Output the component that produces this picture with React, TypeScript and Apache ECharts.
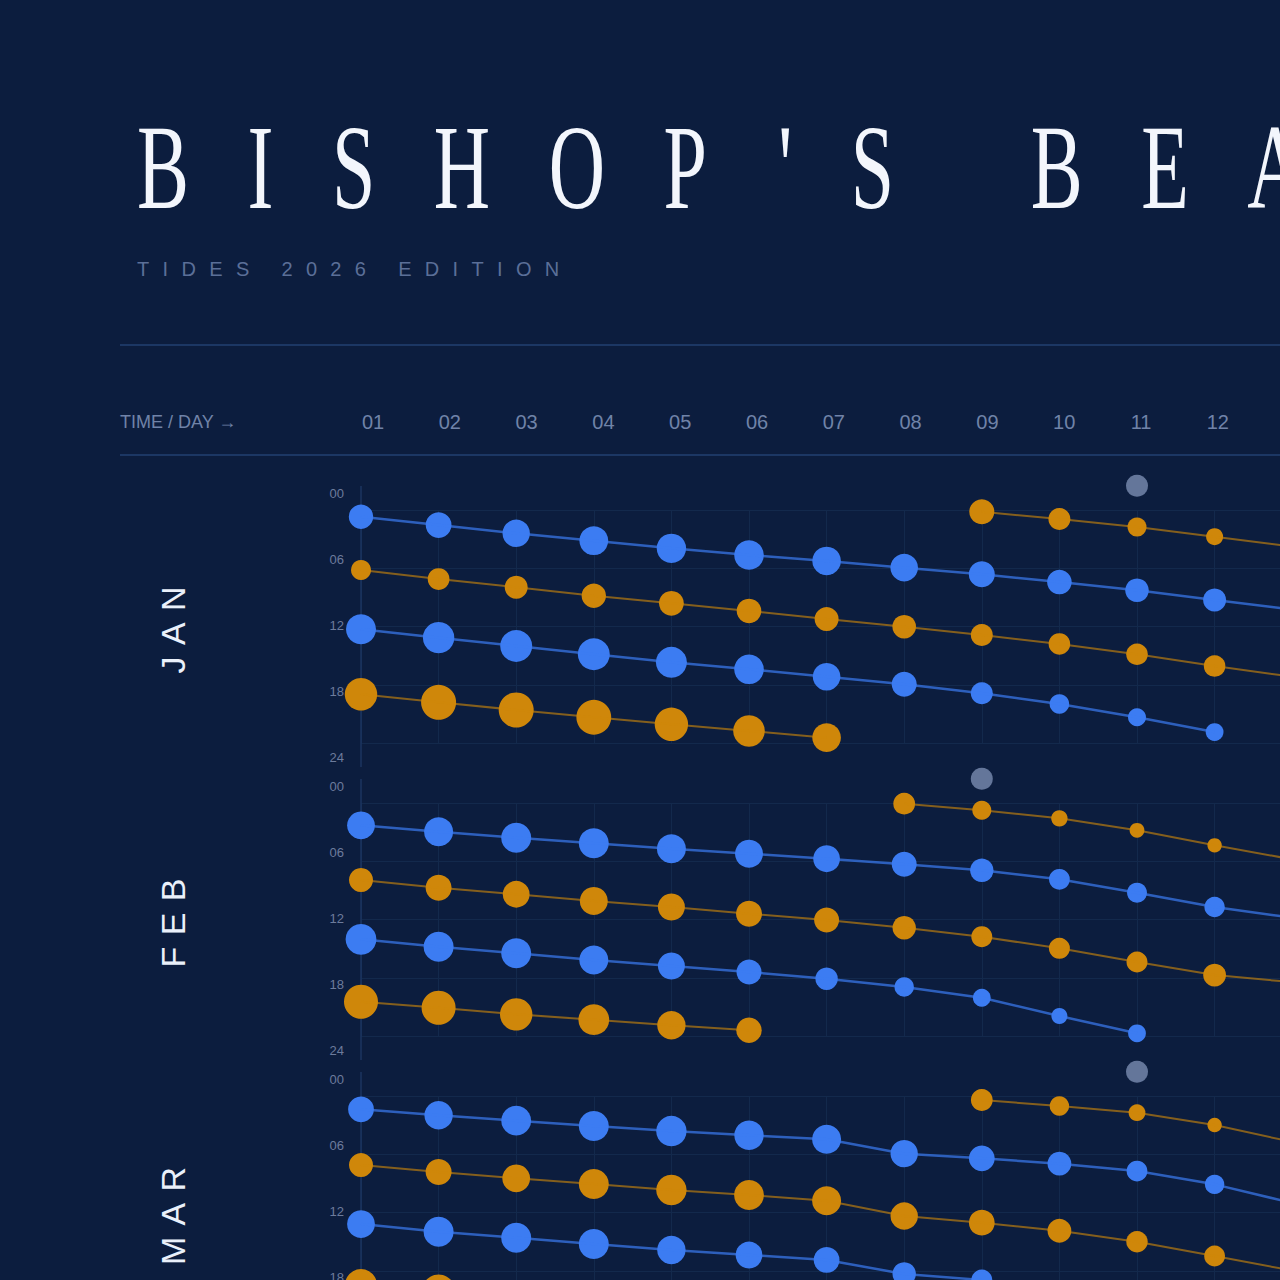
import React, { useEffect, useRef } from "react";
import * as echarts from "echarts";

// ---------- text ----------
const TITLE = "BISHOP'S BEACH";
const SUBTITLE = "TIDES 2026 EDITION";
const AXIS_CAPTION = "TIME / DAY \u2192";
const MONTHS = ["JAN", "FEB", "MAR"];
const DAY_LABELS = ["01", "02", "03", "04", "05", "06", "07", "08", "09", "10", "11", "12"];
const HOUR_TICKS = [0, 6, 12, 18, 24];

// ---------- data (hour of day, tide magnitude) per day 1..13 ----------
const JAN_HIGH_A_T = [0.69, 1.55, 2.4, 3.16, 3.95, 4.64, 5.25, 5.94, 6.62, 7.42, 8.27, 9.27, 10.25];
const JAN_HIGH_A_M = [12.2, 12.9, 13.7, 14.4, 14.7, 14.8, 14.3, 13.8, 13.0, 12.3, 11.8, 11.5, 11.0];
const JAN_LOW_A_T = [6.18, 7.11, 7.96, 8.83, 9.61, 10.4, 11.23, 12.02, 12.88, 13.8, 14.86, 16.07, 17.17];
const JAN_LOW_A_M = [10.0, 10.9, 11.5, 12.2, 12.4, 12.3, 12.0, 11.8, 11.0, 10.8, 10.8, 10.8, 10.8];
const JAN_HIGH_B_T = [12.29, 13.15, 14.01, 14.86, 15.69, 16.41, 17.17, 17.95, 18.88, 19.98, 21.35, 22.87, null];
const JAN_HIGH_B_M = [15.0, 15.7, 16.0, 16.0, 15.5, 14.8, 13.8, 12.5, 11.0, 9.8, 9.0, 8.9, null];
const JAN_LOW_B_T = [18.98, 19.81, 20.6, 21.35, 22.07, 22.76, 23.45, null, null, null, null, null, null];
const JAN_LOW_B_M = [16.2, 17.5, 17.5, 17.4, 16.7, 15.8, 14.3, null, null, null, null, null, null];
const JAN_LOW_C_T = [null, null, null, null, null, null, null, null, 0.18, 0.93, 1.75, 2.75, 3.77];
const JAN_LOW_C_M = [null, null, null, null, null, null, null, null, 12.5, 11.0, 9.5, 8.5, 8.0];
const JAN_MOON_DAYS = [11];

const FEB_HIGH_A_T = [2.3, 2.96, 3.57, 4.15, 4.71, 5.22, 5.74, 6.31, 6.93, 7.86, 9.24, 10.71, 11.82];
const FEB_HIGH_A_M = [13.9, 14.5, 15.0, 15.0, 14.5, 14.0, 13.4, 12.5, 11.7, 10.4, 10.0, 10.2, 10.0];
const FEB_LOW_A_T = [7.93, 8.72, 9.4, 10.09, 10.71, 11.4, 12.05, 12.85, 13.77, 14.97, 16.38, 17.72, 18.46];
const FEB_LOW_A_M = [12.0, 13.0, 13.4, 14.0, 13.5, 13.0, 12.5, 11.7, 10.5, 10.5, 10.5, 11.4, 11.5];
const FEB_HIGH_B_T = [14.04, 14.8, 15.48, 16.17, 16.79, 17.41, 18.1, 18.95, 20.06, 21.94, 23.72, null, null];
const FEB_HIGH_B_M = [15.4, 15.0, 15.0, 14.5, 13.5, 12.5, 11.2, 9.7, 8.9, 8.0, 8.9, null, null];
const FEB_LOW_B_T = [20.47, 21.09, 21.77, 22.32, 22.9, 23.41, null, null, null, null, null, null, null];
const FEB_LOW_B_M = [17.0, 17.0, 16.2, 15.4, 14.2, 12.7, null, null, null, null, null, null, null];
const FEB_LOW_C_T = [null, null, null, null, null, null, null, 0.07, 0.75, 1.58, 2.81, 4.36, 5.8];
const FEB_LOW_C_M = [null, null, null, null, null, null, null, 10.9, 9.5, 8.2, 7.4, 7.2, 7.0];
const FEB_MOON_DAYS = [9];

const MAR_HIGH_A_T = [1.37, 1.99, 2.54, 3.09, 3.61, 4.05, 4.46, 5.94, 6.42, 6.97, 7.73, 9.1, 11.02];
const MAR_HIGH_A_M = [12.9, 14.2, 14.9, 15.0, 15.2, 14.7, 14.5, 13.7, 12.9, 11.9, 10.4, 9.7, 9.5];
const MAR_LOW_A_T = [7.11, 7.83, 8.48, 9.06, 9.68, 10.2, 10.79, 12.36, 13.05, 13.88, 15.01, 16.48, 17.99];
const MAR_LOW_A_M = [12.0, 13.0, 13.9, 15.0, 15.2, 14.9, 14.5, 13.7, 12.9, 11.9, 10.7, 10.4, 10.0];
const MAR_HIGH_B_T = [13.19, 13.98, 14.6, 15.25, 15.86, 16.38, 16.89, 18.33, 18.95, null, null, null, null];
const MAR_HIGH_B_M = [13.9, 15.0, 15.0, 15.0, 14.2, 13.4, 12.9, 11.7, 10.5, null, null, null, null];
const MAR_LOW_B_T = [19.47, 20.09, 20.7, null, null, null, null, null, null, null, null, null, null];
const MAR_LOW_B_M = [16.0, 16.5, 16.5, null, null, null, null, null, null, null, null, null, null];
const MAR_LOW_C_T = [null, null, null, null, null, null, null, null, 0.41, 1.03, 1.72, 2.99, 4.74];
const MAR_LOW_C_M = [null, null, null, null, null, null, null, null, 10.9, 9.7, 8.4, 7.2, 6.5];
const MAR_MOON_DAYS = [11];

// ---------- styles / layout ----------
const BG = "#0c1d3e";
const GRID_LINE = "#13294c";
const RULE = "#1c3764";
const AXIS_LINE = "#1b3560";
const BLUE = "#3c7cf2";
const ORANGE = "#cf870a";
const MOON = "#7a8db2";
const MUTED = "#7083a8";
const TICK_COLOR = "#6c7b9c";
const SANS = '"Liberation Sans", Arial, sans-serif';
const SERIF = '"Liberation Serif", "Times New Roman", serif';

const VIEW_W = 1280;
const VIEW_H = 1280;
const CANVAS_W = 1300;
const CANVAS_H = 1400;
const PLOT_LEFT = 361;
const DAY_STEP = 77.6;
const LAST_DAY = 13;
const HEADER_LEFT = 373;
const HEADER_STEP = 76.8;
const PANEL_TOP0 = 510;
const PANEL_STEP = 293;
const PANEL_H = 233;
const SIZE_PER_UNIT = 2;
const MOON_LANE = -2.5;

type Row = [Array<number | null>, Array<number | null>, "high" | "low"];

const MONTH_ROWS: { rows: Row[]; moon: number[] }[] = [
  {
    rows: [
      [JAN_HIGH_A_T, JAN_HIGH_A_M, "high"],
      [JAN_LOW_A_T, JAN_LOW_A_M, "low"],
      [JAN_HIGH_B_T, JAN_HIGH_B_M, "high"],
      [JAN_LOW_B_T, JAN_LOW_B_M, "low"],
      [JAN_LOW_C_T, JAN_LOW_C_M, "low"],
    ],
    moon: JAN_MOON_DAYS,
  },
  {
    rows: [
      [FEB_HIGH_A_T, FEB_HIGH_A_M, "high"],
      [FEB_LOW_A_T, FEB_LOW_A_M, "low"],
      [FEB_HIGH_B_T, FEB_HIGH_B_M, "high"],
      [FEB_LOW_B_T, FEB_LOW_B_M, "low"],
      [FEB_LOW_C_T, FEB_LOW_C_M, "low"],
    ],
    moon: FEB_MOON_DAYS,
  },
  {
    rows: [
      [MAR_HIGH_A_T, MAR_HIGH_A_M, "high"],
      [MAR_LOW_A_T, MAR_LOW_A_M, "low"],
      [MAR_HIGH_B_T, MAR_HIGH_B_M, "high"],
      [MAR_LOW_B_T, MAR_LOW_B_M, "low"],
      [MAR_LOW_C_T, MAR_LOW_C_M, "low"],
    ],
    moon: MAR_MOON_DAYS,
  },
];

function spaced(text: string, gap: string) {
  return Array.from(text)
    .map((c) => (c === " " ? "\u00A0" : c === "'" ? "\u2006'" : c))
    .join(gap);
}

function toPoints(times: Array<number | null>, mags: Array<number | null>) {
  const out: number[][] = [];
  times.forEach((t, i) => {
    if (t !== null && mags[i] !== null) out.push([i + 1, t, mags[i] as number]);
  });
  return out;
}

function buildOption() {
  const grid: any[] = [];
  const xAxis: any[] = [];
  const yAxis: any[] = [];
  const series: any[] = [];
  const graphic: any[] = [];

  MONTH_ROWS.forEach((month, m) => {
    const top = PANEL_TOP0 + PANEL_STEP * m;
    const dataIdx = grid.length;
    grid.push({ left: PLOT_LEFT, top, width: DAY_STEP * (LAST_DAY - 1), height: PANEL_H });
    xAxis.push({
      gridIndex: dataIdx,
      type: "value",
      min: 1,
      max: LAST_DAY,
      interval: 1,
      axisLine: { show: false },
      axisTick: { show: false },
      axisLabel: { show: false },
      splitLine: { show: true, lineStyle: { color: GRID_LINE, width: 1 } },
    });
    yAxis.push({
      gridIndex: dataIdx,
      type: "value",
      inverse: true,
      min: 0,
      max: 24,
      interval: 6,
      axisLine: { show: false },
      axisTick: { show: false },
      axisLabel: { show: false },
      splitLine: { show: true, lineStyle: { color: GRID_LINE, width: 1 } },
    });

    const labelIdx = grid.length;
    grid.push({ left: PLOT_LEFT, top: top - 16.5, width: 10, height: 264 });
    xAxis.push({ gridIndex: labelIdx, type: "value", show: false });
    yAxis.push({
      gridIndex: labelIdx,
      type: "value",
      inverse: true,
      min: HOUR_TICKS[0],
      max: HOUR_TICKS[HOUR_TICKS.length - 1],
      interval: 6,
      axisLine: { show: false },
      axisTick: { show: false },
      splitLine: { show: false },
      axisLabel: {
        show: true,
        margin: 17,
        color: TICK_COLOR,
        fontSize: 13,
        fontFamily: SANS,
        formatter: (v: number) => String(v).padStart(2, "0"),
      },
    });

    month.rows.forEach(([times, mags, kind]) => {
      const pts = toPoints(times, mags);
      const color = kind === "high" ? BLUE : ORANGE;
      series.push({
        type: "scatter",
        xAxisIndex: dataIdx,
        yAxisIndex: dataIdx,
        data: pts,
        symbol: "circle",
        symbolSize: (v: number[]) => v[2] * SIZE_PER_UNIT,
        itemStyle: { color, opacity: 1 },
        clip: false,
        silent: true,
        z: 2,
      });
      series.push({
        type: "line",
        xAxisIndex: dataIdx,
        yAxisIndex: dataIdx,
        data: pts.map((p) => [p[0], p[1]]),
        symbol: "none",
        showSymbol: false,
        clip: false,
        lineStyle: {
          color,
          width: kind === "high" ? 2.5 : 2,
          opacity: kind === "high" ? 0.7 : 0.62,
        },
        silent: true,
        z: 3,
      });
    });

    series.push({
      type: "scatter",
      xAxisIndex: dataIdx,
      yAxisIndex: dataIdx,
      data: month.moon.map((d) => [d, MOON_LANE]),
      symbolSize: 22,
      clip: false,
      itemStyle: { color: MOON },
      silent: true,
      z: 2,
    });

    graphic.push({
      type: "line",
      shape: { x1: PLOT_LEFT, y1: top - 24, x2: PLOT_LEFT, y2: top + PANEL_H + 24 },
      style: { stroke: AXIS_LINE, lineWidth: 1.5 },
      silent: true,
      z: 1,
    });
    graphic.push({
      type: "text",
      x: 173,
      y: top + 120,
      rotation: Math.PI / 2,
      style: {
        text: spaced(MONTHS[m], "\u2004"),
        fill: "#eaf0fa",
        fontSize: 34,
        fontFamily: SANS,
        align: "center",
        textAlign: "center",
        verticalAlign: "middle",
        textVerticalAlign: "middle",
      },
      silent: true,
    });
  });

  // header day axis
  const headIdx = grid.length;
  grid.push({
    left: HEADER_LEFT,
    top: 421,
    width: HEADER_STEP * (DAY_LABELS.length - 1),
    height: 1,
  });
  xAxis.push({
    gridIndex: headIdx,
    type: "category",
    data: DAY_LABELS,
    boundaryGap: false,
    axisLine: { show: false },
    axisTick: { show: false },
    splitLine: { show: false },
    axisLabel: {
      interval: 0,
      margin: 0,
      verticalAlign: "middle",
      color: MUTED,
      fontSize: 20,
      fontFamily: SANS,
    },
  });
  yAxis.push({ gridIndex: headIdx, type: "value", show: false });

  graphic.push(
    {
      type: "text",
      x: 137,
      y: 167.5,
      scaleX: 0.65,
      style: {
        text: spaced(TITLE, "\u2002\u00A0"),
        fill: "#f3f6fc",
        fontSize: 120,
        fontFamily: SERIF,
        align: "left",
        textAlign: "left",
        verticalAlign: "middle",
        textVerticalAlign: "middle",
      },
      silent: true,
    },
    {
      type: "text",
      x: 137,
      y: 268.5,
      style: {
        text: spaced(SUBTITLE, "\u2002\u2006"),
        fill: "#5b6f98",
        fontSize: 20,
        fontFamily: SANS,
        align: "left",
        textAlign: "left",
        verticalAlign: "middle",
        textVerticalAlign: "middle",
      },
      silent: true,
    },
    {
      type: "line",
      shape: { x1: 120, y1: 345, x2: CANVAS_W, y2: 345 },
      style: { stroke: RULE, lineWidth: 2 },
      silent: true,
    },
    {
      type: "line",
      shape: { x1: 120, y1: 455, x2: CANVAS_W, y2: 455 },
      style: { stroke: RULE, lineWidth: 2 },
      silent: true,
    },
    {
      type: "text",
      x: 120,
      y: 422,
      style: {
        text: AXIS_CAPTION,
        fill: MUTED,
        fontSize: 18,
        fontFamily: SANS,
        align: "left",
        textAlign: "left",
        verticalAlign: "middle",
        textVerticalAlign: "middle",
      },
      silent: true,
    }
  );

  return {
    animation: false,
    backgroundColor: BG,
    tooltip: { show: false },
    grid,
    xAxis,
    yAxis,
    series,
    graphic: { elements: graphic },
  };
}

export default function App() {
  const ref = useRef<HTMLDivElement>(null);
  useEffect(() => {
    document.body.style.margin = "0";
    document.body.style.background = BG;
    const el = ref.current;
    if (!el) return;
    const chart = echarts.init(el, null, { renderer: "svg" });
    chart.setOption(buildOption() as any);
    return () => chart.dispose();
  }, []);
  return (
    <div
      style={{
        position: "fixed",
        left: 0,
        top: 0,
        width: VIEW_W,
        height: VIEW_H,
        overflow: "hidden",
        background: BG,
      }}
    >
      <div ref={ref} style={{ width: CANVAS_W, height: CANVAS_H }} />
    </div>
  );
}
